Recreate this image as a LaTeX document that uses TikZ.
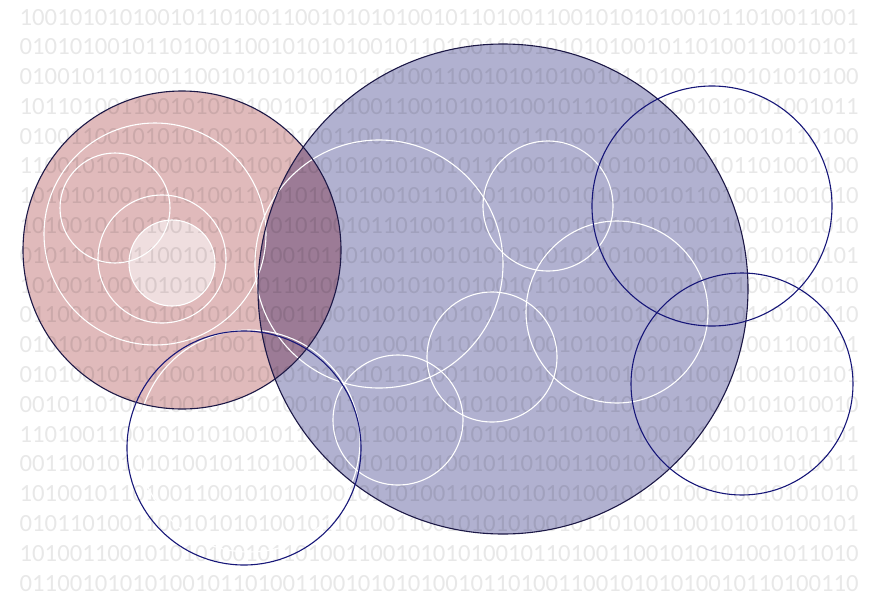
\documentclass[tikz,border=0pt]{standalone}
\usepackage{fontspec}
\newfontfamily\bitfont{Carlito}
\def\Bpat{101101001100101010100}
\definecolor{pinkfill}{RGB}{224,186,187}
\definecolor{bluefill}{RGB}{177,177,208}
\definecolor{lensfill}{RGB}{156,123,150}
\definecolor{paleflll}{RGB}{239,222,223}
\definecolor{darkrim}{RGB}{28,24,70}
\definecolor{navyrim}{RGB}{22,22,120}
\tikzset{
  bits/.style={anchor=base west, inner sep=0pt, text=black, text opacity=0.09,
    font=\bitfont\fontsize{24.7pt}{24.7pt}\selectfont},
  whitering/.style={draw=white, line width=1.1pt},
  darkring/.style={draw=darkrim, line width=1.1pt},
  navyring/.style={draw=navyrim, line width=1.1pt}
}
\begin{document}
\begin{tikzpicture}[x=1pt,y=-1pt]
\useasboundingbox (0,0) rectangle (876,595);
% filled discs
\fill[pinkfill] (182,250) circle[radius=159pt];
\fill[bluefill] (503,289) circle[radius=245pt];
\begin{scope}
  \clip (182,250) circle[radius=159pt];
  \fill[lensfill] (503,289) circle[radius=245pt];
\end{scope}
\fill[paleflll] (172,263) circle[radius=43pt];
% background binary rows
\node[bits] (r1)  at (19.5, 25.0) {100101010100\Bpat\Bpat 1011010011001};
\node[bits] (r2)  at (19.5, 54.8) {01010100\Bpat\Bpat 10110100110010101};
\node[bits] (r3)  at (19.5, 84.6) {0100\Bpat\Bpat\Bpat};
\node[bits] (r4)  at (19.5,114.4) {\Bpat\Bpat\Bpat 1011};
\node[bits] (r5)  at (19.5,144.2) {01001100101010100\Bpat\Bpat 10110100};
\node[bits] (r6)  at (19.5,173.9) {1100101010100\Bpat\Bpat 101101001100};
\node[bits] (r7)  at (19.5,203.7) {101010100\Bpat\Bpat 1011010011001010};
\node[bits] (r8)  at (19.5,233.5) {10100\Bpat\Bpat 10110100110010101010};
\node[bits] (r9)  at (19.5,263.3) {0\Bpat\Bpat\Bpat 101};
\node[bits] (r10) at (19.5,293.1) {101001100101010100\Bpat\Bpat 1011010};
\node[bits] (r11) at (19.5,322.9) {01100101010100\Bpat\Bpat 10110100110};
\node[bits] (r12) at (19.5,352.7) {0101010100\Bpat\Bpat 101101001100101};
\node[bits] (r13) at (19.5,382.5) {010100\Bpat\Bpat 1011010011001010101};
\node[bits] (r14) at (19.5,412.3) {00\Bpat\Bpat\Bpat 10};
\node[bits] (r15) at (19.5,442.1) {1101001100101010100\Bpat\Bpat 101101};
\node[bits] (r16) at (19.5,471.9) {001100101010100\Bpat\Bpat 1011010011};
\node[bits] (r17) at (19.5,501.6) {10100\Bpat\Bpat 10110100110010101010};
\node[bits] (r18) at (19.5,531.4) {0\Bpat\Bpat\Bpat 101};
\node[bits] (r19) at (19.5,561.2) {101001100101010100\Bpat\Bpat 1011010};
\node[bits] (r20) at (19.5,591.0) {01100101010100\Bpat\Bpat 10110100110};
% white rings
\draw[whitering] (172,263) circle[radius=43pt];
\draw[whitering] (155,234) circle[radius=111pt];
\draw[whitering] (115,208) circle[radius=55pt];
\draw[whitering] (162,259) circle[radius=64pt];
\draw[whitering] (379,264) circle[radius=124pt];
\draw[whitering] (548,206) circle[radius=65pt];
\draw[whitering] (617,312) circle[radius=91pt];
\draw[whitering] (492,357) circle[radius=65pt];
\draw[whitering] (398,420) circle[radius=65pt];
\draw[whitering] (249,441) circle[radius=111pt];
% dark outlines
\draw[darkring] (182,250) circle[radius=159pt];
\draw[darkring] (503,289) circle[radius=245pt];
\draw[navyring] (712,206) circle[radius=120pt];
\draw[navyring] (742,384) circle[radius=111pt];
\draw[navyring] (244,448) circle[radius=117pt];
\end{tikzpicture}
\end{document}
